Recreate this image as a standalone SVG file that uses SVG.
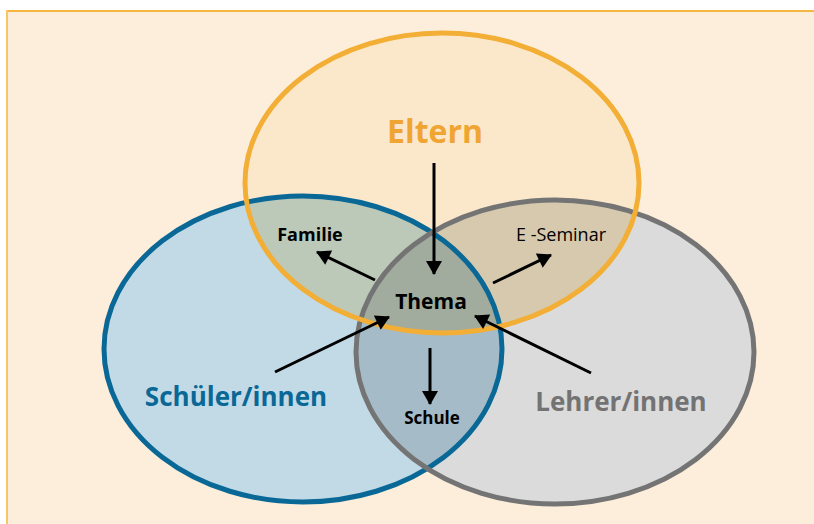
<svg xmlns="http://www.w3.org/2000/svg" width="814" height="524" viewBox="0 0 814 524">
<style>
.lbl{font-family:"Open Sans","Liberation Sans",sans-serif;font-weight:bold;text-anchor:middle}
.edge{stroke:#000;stroke-width:3;fill:none;marker-end:url(#ah)}
</style>
<defs>
<marker id="ah" markerUnits="userSpaceOnUse" markerWidth="16" markerHeight="16" viewBox="0 0 14 16" refX="13" refY="8" orient="auto">
<path d="M0,0 L14,8 L0,16 Z" fill="#000"/>
</marker>
<clipPath id="cO"><ellipse cx="442" cy="183" rx="197" ry="150"/></clipPath>
<clipPath id="cB"><ellipse cx="303" cy="349" rx="199" ry="153"/></clipPath>
<clipPath id="cG"><ellipse cx="555" cy="352" rx="199" ry="152"/></clipPath>
</defs>
<rect x="0" y="0" width="814" height="524" fill="#ffffff"/>
<rect x="6" y="10" width="808" height="514" fill="#fdeedb"/>
<line x1="6" y1="11" x2="814" y2="11" stroke="#f5b642" stroke-width="2"/>
<line x1="7" y1="10" x2="7" y2="524" stroke="#f8c66a" stroke-width="2"/>
<g id="fills">
<ellipse cx="442" cy="183" rx="197" ry="150" fill="#fbe8cb"/>
<ellipse cx="303" cy="349" rx="199" ry="153" fill="#c1dae6"/>
<ellipse cx="555" cy="352" rx="199" ry="152" fill="#dbdbdb"/>
<g clip-path="url(#cB)"><ellipse cx="442" cy="183" rx="197" ry="150" fill="#bcc9b8"/></g>
<g clip-path="url(#cG)"><ellipse cx="442" cy="183" rx="197" ry="150" fill="#d6c9ad"/></g>
<g clip-path="url(#cG)"><ellipse cx="303" cy="349" rx="199" ry="153" fill="#a5bbc8"/></g>
<g clip-path="url(#cG)"><g clip-path="url(#cB)"><ellipse cx="442" cy="183" rx="197" ry="150" fill="#a1ac9f"/></g></g>
</g>
<g id="schueler"><ellipse cx="303" cy="349" rx="199" ry="153" fill="none" stroke="#0a6896" stroke-width="5"/>
<text class="lbl" x="236" y="406" font-size="26" fill="#0a6896">Schüler/innen</text></g>
<g id="lehrer"><ellipse cx="555" cy="352" rx="199" ry="152" fill="none" stroke="#747474" stroke-width="5"/>
<text class="lbl" x="621" y="411" font-size="26" fill="#737373">Lehrer/innen</text></g>
<g id="eltern"><ellipse cx="442" cy="183" rx="197" ry="150" fill="none" stroke="#f2ae35" stroke-width="5"/>
<text class="lbl" x="435" y="143" font-size="32" fill="#f0a533">Eltern</text></g>
<g id="thema"><text class="lbl" x="431" y="309" font-size="21" fill="#000">Thema</text></g>
<g id="familie"><text class="lbl" x="310" y="241" font-size="18" fill="#000">Familie</text></g>
<g id="eseminar"><text x="561" y="241" font-size="18" fill="#000" text-anchor="middle" font-family="Open Sans, Liberation Sans, sans-serif">E -Seminar</text></g>
<g id="schule"><text class="lbl" x="432" y="424" font-size="17" fill="#000">Schule</text></g>
<g id="connectors">
<line class="edge" x1="434" y1="163" x2="434" y2="274"/>
<line class="edge" x1="375" y1="280" x2="317" y2="252"/>
<line class="edge" x1="493" y1="283" x2="551" y2="255"/>
<line class="edge" x1="275" y1="372" x2="389" y2="317"/>
<line class="edge" x1="591" y1="373" x2="475" y2="316"/>
<line class="edge" x1="430" y1="348" x2="430" y2="404"/>
</g>
</svg>
